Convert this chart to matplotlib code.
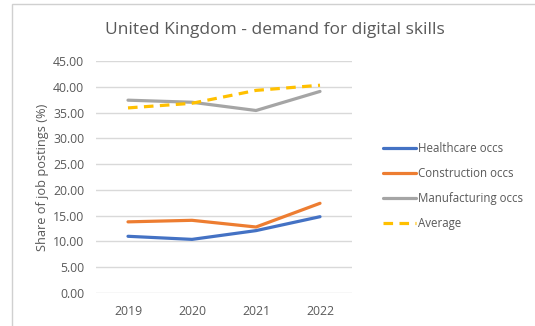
import matplotlib
matplotlib.use("Agg")
import matplotlib.pyplot as plt
from matplotlib.patches import Rectangle

years = ["2019", "2020", "2021", "2022"]
healthcare = [11.0, 10.4, 12.1, 14.8]
construction = [13.8, 14.1, 12.8, 17.4]
manufacturing = [37.4, 37.0, 35.4, 39.1]
average = [35.9, 36.8, 39.3, 40.3]
yticks = [0, 5, 10, 15, 20, 25, 30, 35, 40, 45]

plt.rcParams["font.family"] = ["Open Sans", "DejaVu Sans"]

W, H = 535, 326
fig = plt.figure(figsize=(W / 100, H / 100), dpi=100)
fig.patch.set_facecolor("white")

# outer chart frame
fig.patches.append(Rectangle((12 / W, -0.05), 1.2, (H - 4) / H + 0.05,
                             transform=fig.transFigure, fill=False,
                             edgecolor="#D0D0D0", linewidth=1.0))

ax = fig.add_axes([96 / W, (H - 293) / H, (352 - 96) / W, (293 - 61) / H])
x = list(range(len(years)))

ax.plot(x, healthcare, color="#4472C4", lw=2.3, label="Healthcare occs", solid_capstyle="round")
ax.plot(x, construction, color="#ED7D31", lw=2.3, label="Construction occs", solid_capstyle="round")
ax.plot(x, manufacturing, color="#A5A5A5", lw=2.3, label="Manufacturing occs", solid_capstyle="round")
ax.plot(x, average, color="#FFC000", lw=2.3, ls=(0, (3, 2)), label="Average")

ax.set_xlim(-0.5, len(years) - 0.5)
ax.set_ylim(0, 45)
ax.set_xticks(x)
ax.set_xticklabels(years)
ax.set_yticks(yticks)
ax.set_yticklabels([f"{v:.2f}" for v in yticks])
ax.tick_params(axis="both", length=0, labelsize=8.8, colors="#595959")
ax.tick_params(axis="x", pad=8.5)
ax.tick_params(axis="y", pad=8.5)
for s in ax.spines.values():
    s.set_visible(False)
ax.grid(axis="y", color="#D9D9D9", lw=1.0)
ax.set_axisbelow(True)

ax.set_ylabel("Share of job postings (%)", fontsize=9.2, color="#595959", labelpad=3)

fig.text(275 / W, 1 - 30 / H, "United Kingdom - demand for digital skills",
         ha="center", va="center", fontsize=12.5, color="#595959")

ax.legend(loc="center left", bbox_to_anchor=(373 / W, 1 - 186 / H),
          bbox_transform=fig.transFigure, frameon=False, fontsize=8.3,
          labelcolor="#595959", handlelength=2.8, handletextpad=0.2,
          labelspacing=1.05)

fig.savefig("out.png", dpi=100, facecolor="white")
